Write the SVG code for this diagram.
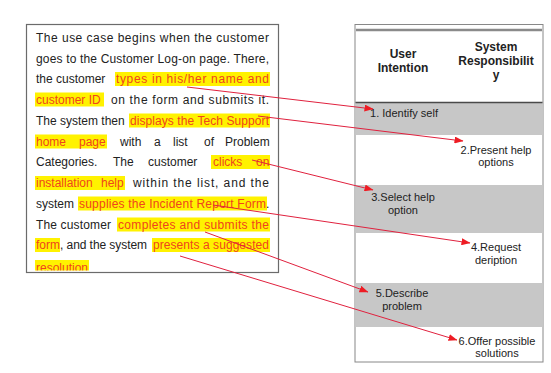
<svg xmlns="http://www.w3.org/2000/svg" width="551" height="373" viewBox="0 0 551 373">
<style>
  .t { font-family: "Liberation Sans", Arial, sans-serif; font-size: 12px; fill: #222; }
  .h { font-family: "Liberation Sans", Arial, sans-serif; font-size: 12px; fill: #f0441c; }
  .hl { fill: #fff200; }
  .hd { font-family: "Liberation Sans", Arial, sans-serif; font-size: 12px; font-weight: bold; fill: #222; text-anchor: middle; }
  .lb { font-family: "Liberation Sans", Arial, sans-serif; font-size: 11px; fill: #222; text-anchor: middle; }
  .row { fill: #c7c7c7; }
  .conn { stroke: #e0213e; stroke-width: 1; fill: none; marker-end: url(#ah); }
</style>
<defs>
  <marker id="ah" markerWidth="9" markerHeight="7" refX="8.5" refY="3.5" orient="auto" markerUnits="userSpaceOnUse">
    <path d="M0,0 L9,3.5 L0,7 Z" fill="#ee1c24"/>
  </marker>
  <clipPath id="boxclip"><rect x="27" y="25" width="251" height="245.5"/></clipPath>
</defs>
<rect width="551" height="373" fill="#fff"/>

<g id="text-box">
  <rect x="26.5" y="24.5" width="252" height="248" fill="#fff" stroke="#6b6b6b" stroke-width="1.2"/>
  <g clip-path="url(#boxclip)">
    <rect class="hl" x="115" y="72" width="155" height="14"/>
    <rect class="hl" x="35" y="92.5" width="69" height="14"/>
    <rect class="hl" x="129" y="113.5" width="141" height="14"/>
    <rect class="hl" x="35" y="134.5" width="72" height="14"/>
    <rect class="hl" x="211" y="155" width="59" height="14"/>
    <rect class="hl" x="35" y="176" width="90" height="14"/>
    <rect class="hl" x="78" y="196.5" width="189" height="14"/>
    <rect class="hl" x="117" y="217.5" width="153" height="14"/>
    <rect class="hl" x="35" y="238" width="25" height="14"/>
    <rect class="hl" x="152" y="238" width="118" height="14"/>
    <rect class="hl" x="35" y="260" width="54" height="14"/>

    <text class="t" x="36" y="42" textLength="233" lengthAdjust="spacing">The use case begins when the customer</text>
    <text class="t" x="36" y="62.5" textLength="233" lengthAdjust="spacing">goes to the Customer Log-on page. There,</text>
    <text class="t" x="36" y="83">the customer</text>
    <text class="h" x="116" y="83" textLength="153" lengthAdjust="spacing">types in his/her name and</text>
    <text class="h" x="36" y="103.5">customer ID</text>
    <text class="t" x="111" y="103.5" textLength="158" lengthAdjust="spacing">on the form and submits it.</text>
    <text class="t" x="36" y="124.5">The system then</text>
    <text class="h" x="130" y="124.5" textLength="139" lengthAdjust="spacing">displays the Tech Support</text>
    <text class="h" x="36" y="145.5">home</text>
    <text class="h" x="79" y="145.5">page</text>
    <text class="t" x="120" y="145.5">with</text>
    <text class="t" x="154" y="145.5">a</text>
    <text class="t" x="173" y="145.5">list</text>
    <text class="t" x="204" y="145.5">of</text>
    <text class="t" x="225" y="145.5">Problem</text>
    <text class="t" x="36" y="166">Categories.</text>
    <text class="t" x="113" y="166">The</text>
    <text class="t" x="148" y="166">customer</text>
    <text class="h" x="213" y="166">clicks</text>
    <text class="h" x="256" y="166">on</text>
    <text class="h" x="36" y="187">installation</text>
    <text class="h" x="101" y="187">help</text>
    <text class="t" x="133" y="187" textLength="136" lengthAdjust="spacing">within the list, and the</text>
    <text class="t" x="36" y="207.5">system</text>
    <text class="h" x="79" y="207.5" textLength="187" lengthAdjust="spacing">supplies the Incident Report Form</text>
    <text class="t" x="266" y="207.5">.</text>
    <text class="t" x="36" y="228.5" textLength="75" lengthAdjust="spacing">The customer</text>
    <text class="h" x="118" y="228.5" textLength="151" lengthAdjust="spacing">completes and submits the</text>
    <text class="h" x="36" y="249">form</text>
    <text class="t" x="60" y="249" textLength="87" lengthAdjust="spacing">, and the system</text>
    <text class="h" x="153" y="249" textLength="116" lengthAdjust="spacing">presents a suggested</text>
    <text class="h" x="36" y="272">resolution</text>
  </g>
</g>

<g id="table">
  <rect x="355" y="24.5" width="188" height="337.5" fill="#fff" stroke="#888" stroke-width="1"/>
  <line x1="356" y1="30" x2="542" y2="30" stroke="#8a8a8a" stroke-width="2.5"/>
  <rect class="row" x="355.5" y="103" width="187" height="32"/>
  <rect class="row" x="355.5" y="185" width="187" height="48"/>
  <rect class="row" x="355.5" y="283" width="187" height="44"/>
  <line x1="355.5" y1="102.5" x2="542.5" y2="102.5" stroke="#4a4a4a" stroke-width="1.5"/>
  <g id="header-user">
    <text class="hd" x="403" y="58">User</text>
    <text class="hd" x="403" y="72">Intention</text>
  </g>
  <g id="header-system">
    <text class="hd" x="496" y="51">System</text>
    <text class="hd" x="496" y="65">Responsibilit</text>
    <text class="hd" x="496" y="79">y</text>
  </g>
  <g id="step1"><text class="lb" x="404" y="117">1. Identify self</text></g>
  <g id="step2">
    <text class="lb" x="496" y="154">2.Present help</text>
    <text class="lb" x="496" y="166">options</text>
  </g>
  <g id="step3">
    <text class="lb" x="403" y="201">3.Select help</text>
    <text class="lb" x="403" y="214">option</text>
  </g>
  <g id="step4">
    <text class="lb" x="496" y="251">4.Request</text>
    <text class="lb" x="496" y="264">deription</text>
  </g>
  <g id="step5">
    <text class="lb" x="402" y="297">5.Describe</text>
    <text class="lb" x="402" y="310">problem</text>
  </g>
  <g id="step6">
    <text class="lb" x="497" y="345">6.Offer possible</text>
    <text class="lb" x="497" y="357">solutions</text>
  </g>
</g>

<g id="connectors">
  <line class="conn" x1="187" y1="87" x2="373" y2="109"/>
  <line class="conn" x1="258" y1="116" x2="463" y2="141"/>
  <line class="conn" x1="252" y1="160" x2="373" y2="190"/>
  <line class="conn" x1="213" y1="205" x2="470" y2="243"/>
  <line class="conn" x1="205" y1="232" x2="368" y2="292"/>
  <line class="conn" x1="180" y1="256" x2="457" y2="340"/>
</g>
</svg>
